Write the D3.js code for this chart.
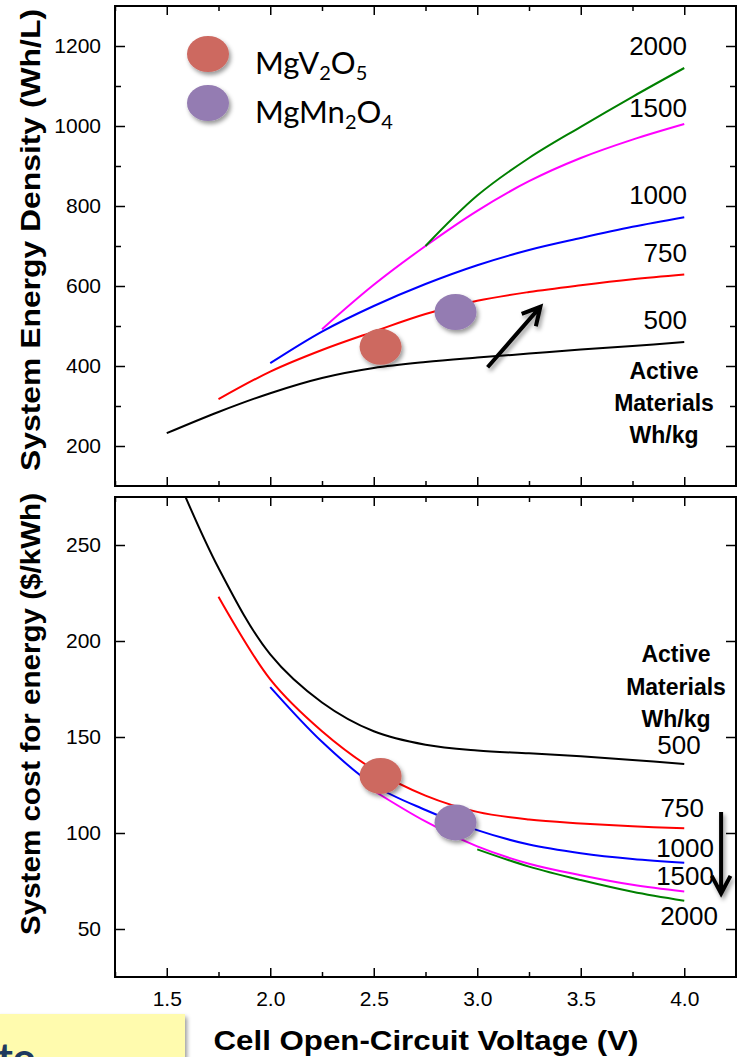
<!DOCTYPE html>
<html>
<head>
<meta charset="utf-8">
<script src="https://cdn.jsdelivr.net/npm/d3@7"></script>
<style>
	body { margin: 0; background: #fff; }
	svg { display: block; }
</style>
</head>
<body>
<div id="chart"></div>
<script>
var voltages = [1.5, 1.75, 2.0, 2.25, 2.5, 2.75, 3.0, 3.25, 3.5, 3.75, 4.0];

// system energy density (Wh/L), one array per active-material energy (Wh/kg)
var energy500 = [232, 285, 332, 370, 395, 410, 421, 431, 441, 450, 460];
var energy750 = [null, 317, 386, 440, 486, 530, 563, 585, 602, 617, 629];
var energy1000 = [null, null, 407, 486, 550, 605, 652, 690, 720, 748, 772];
var energy1500 = [null, null, null, 492, 603, 700, 788, 862, 920, 966, 1005];
var energy2000 = [null, null, null, null, null, 700, 826, 920, 998, 1073, 1145];

// system cost for energy ($/kWh)
var cost500 = [298, 238, 193, 168, 153, 146, 143, 141.5, 140, 138, 136];
var cost750 = [null, 223, 180, 153, 133, 119.5, 111, 107, 105, 103.5, 102.5];
var cost1000 = [null, null, 176, 147.5, 125, 112, 101.5, 94, 89.5, 86.5, 84.5];
var cost1500 = [null, null, null, null, 122, 106, 93, 84, 78, 73, 69.5];
var cost2000 = [null, null, null, null, null, null, 91.5, 82.5, 75.5, 69.4, 64.7];

var seriesNames = ["500", "750", "1000", "1500", "2000"];
var seriesColors = ["#000000", "#ff0000", "#0000ff", "#ff00ff", "#008000"];

var materials = ["MgV", "MgMn"];
var materialColors = ["#cd6961", "#947cb2"];
var markerVoltage = [2.533, 2.895];
var markerEnergy = [448, 535];
var markerCost = [129.7, 105.5];

var energyTarget = 472, energyTargetRange = [1.30, 4.10];
var costTarget = 100, costTargetRange = [1.36, 4.16];
var energyArrow = [[3.05, 397], [3.305, 548]];
var costArrow = [[4.178, 111], [4.178, 68.5]];

var xTicks = [1.5, 2.0, 2.5, 3.0, 3.5, 4.0];
var xMinor = [1.25, 1.75, 2.25, 2.75, 3.25, 3.75];
var energyTicks = [200, 400, 600, 800, 1000, 1200];
var energyMinor = [300, 500, 700, 900, 1100];
var costTicks = [50, 100, 150, 200, 250];

const W = 744, H = 1057;
const left = 115, right = 736;
const tickFont = "'Liberation Sans', Arial, sans-serif";

const svg = d3.select("#chart").append("svg")
	.attr("width", W)
	.attr("height", H);

var defs = svg.append("defs");
defs.append("filter")
	.attr("id", "shadow")
	.attr("x", "-20%").attr("y", "-40%")
	.attr("width", "150%").attr("height", "200%")
	.append("feDropShadow")
	.attr("dx", 2).attr("dy", 3)
	.attr("stdDeviation", 2)
	.attr("flood-color", "#000")
	.attr("flood-opacity", 0.4);

const xScale = d3.scaleLinear().domain([1.25, 4.25]).range([left, right]);
const yTop = d3.scaleLinear().domain([100, 1300]).range([486, 6]);
const yBot = d3.scaleLinear().domain([25, 275]).range([977, 497]);

function addAxis(g, axis, transform, format) {
	axis.tickSizeOuter(0).tickPadding(14);
	axis.tickFormat(format ? format : function() { return ""; });
	var sel = g.append("g").attr("transform", transform).call(axis);
	sel.select(".domain").remove();
	sel.selectAll("line").attr("stroke", "#000").attr("stroke-width", 1.5);
	sel.selectAll("text")
		.attr("fill", "#000")
		.style("font-family", tickFont)
		.style("font-size", "21px");
}

function frame(yScale, majors, minors, showX) {
	var top = yScale.range()[1], bottom = yScale.range()[0];
	var g = svg.append("g");
	var xt = "translate(0," + bottom + ")", tt = "translate(0," + top + ")";
	var lt = "translate(" + left + ",0)", rt = "translate(" + right + ",0)";

	addAxis(g, d3.axisBottom(xScale).tickValues(xTicks).tickSize(-9), xt, showX ? d3.format(".1f") : null);
	addAxis(g, d3.axisBottom(xScale).tickValues(xMinor).tickSize(-5), xt, null);
	addAxis(g, d3.axisTop(xScale).tickValues(xTicks).tickSize(-9), tt, null);
	addAxis(g, d3.axisTop(xScale).tickValues(xMinor).tickSize(-5), tt, null);
	addAxis(g, d3.axisLeft(yScale).tickValues(majors).tickSize(-10), lt, d3.format("d"));
	addAxis(g, d3.axisLeft(yScale).tickValues(minors).tickSize(-6), lt, null);
	addAxis(g, d3.axisRight(yScale).tickValues(majors).tickSize(-10), rt, null);
	addAxis(g, d3.axisRight(yScale).tickValues(minors).tickSize(-6), rt, null);

	g.append("rect")
		.attr("x", left).attr("y", top)
		.attr("width", right - left).attr("height", bottom - top)
		.attr("fill", "none").attr("stroke", "#000").attr("stroke-width", 2);
}

frame(yTop, energyTicks, energyMinor, false);
frame(yBot, costTicks, [], true);

defs.append("clipPath").attr("id", "clipTop").append("rect")
	.attr("x", left).attr("y", 6).attr("width", right - left).attr("height", 480);
defs.append("clipPath").attr("id", "clipBot").append("rect")
	.attr("x", left).attr("y", 497).attr("width", right - left).attr("height", 480);

function drawCurves(seriesList, yScale, clip) {
	var g = svg.append("g").attr("clip-path", "url(#" + clip + ")");
	seriesList.forEach(function(values, i) {
		var line = d3.line()
			.defined(function(d) { return d != null; })
			.x(function(d, j) { return xScale(voltages[j]); })
			.y(function(d) { return yScale(d); })
			.curve(d3.curveCatmullRom.alpha(0.5));
		g.append("path")
			.datum(values)
			.attr("d", line)
			.attr("fill", "none")
			.attr("stroke", seriesColors[i])
			.attr("stroke-width", 2);
	});
}

drawCurves([energy500, energy750, energy1000, energy1500, energy2000], yTop, "clipTop");
drawCurves([cost500, cost750, cost1000, cost1500, cost2000], yBot, "clipBot");

function target(value, range, yScale) {
	svg.append("line")
		.attr("x1", xScale(range[0])).attr("x2", xScale(range[1]))
		.attr("y1", yScale(value)).attr("y2", yScale(value))
		.attr("stroke", "#000")
		.attr("stroke-width", 5.5)
		.attr("filter", "url(#shadow)");
}

function markers(values, yScale) {
	svg.append("g").selectAll("ellipse")
		.data(values)
		.enter()
		.append("ellipse")
		.attr("cx", function(d, i) { return xScale(markerVoltage[i]); })
		.attr("cy", function(d) { return yScale(d); })
		.attr("rx", 21)
		.attr("ry", 18)
		.attr("fill", function(d, i) { return materialColors[i]; })
		.attr("filter", "url(#shadow)");
}

function arrow(pts, yScale) {
	var x1 = xScale(pts[0][0]), y1 = yScale(pts[0][1]);
	var x2 = xScale(pts[1][0]), y2 = yScale(pts[1][1]);
	var ang = Math.atan2(y1 - y2, x1 - x2);
	var len = 20, spread = 28 * Math.PI / 180;
	var p = d3.path();
	p.moveTo(x1, y1);
	p.lineTo(x2, y2);
	p.moveTo(x2 + len * Math.cos(ang + spread), y2 + len * Math.sin(ang + spread));
	p.lineTo(x2, y2);
	p.lineTo(x2 + len * Math.cos(ang - spread), y2 + len * Math.sin(ang - spread));
	svg.append("path")
		.attr("d", p.toString())
		.attr("fill", "none")
		.attr("stroke", "#000")
		.attr("stroke-width", 4)
		.attr("filter", "url(#shadow)");
}

target(energyTarget, energyTargetRange, yTop);
markers(markerEnergy, yTop);
arrow(energyArrow, yTop);

target(costTarget, costTargetRange, yBot);
markers(markerCost, yBot);
arrow(costArrow, yBot);

// legend
var legend = svg.append("g");
var legendY = [54, 103];
var subs = [["2", "O", "5"], ["2", "O", "4"]];
materials.forEach(function(m, i) {
	legend.append("ellipse")
		.attr("cx", 208).attr("cy", legendY[i])
		.attr("rx", 21).attr("ry", 18)
		.attr("fill", materialColors[i])
		.attr("filter", "url(#shadow)");
	var t = legend.append("text")
		.attr("x", 255).attr("y", legendY[i] + 20)
		.style("font-family", "Lato, 'Open Sans', sans-serif")
		.style("font-size", "31px")
		.attr("fill", "#000");
	t.append("tspan").text(m);
	t.append("tspan").attr("dy", 6).style("font-size", "20px").text(subs[i][0]);
	t.append("tspan").attr("dy", -6).text(subs[i][1]);
	t.append("tspan").attr("dy", 6).style("font-size", "20px").text(subs[i][2]);
});

// curve labels
function label(txt, x, y, anchor, bold) {
	svg.append("text")
		.attr("x", x).attr("y", y)
		.attr("text-anchor", anchor)
		.style("font-family", tickFont)
		.style("font-size", bold ? "23px" : "26px")
		.style("font-weight", bold ? "bold" : "normal")
		.text(txt);
}

var topLabelY = [329, 262, 204, 117, 55];
seriesNames.forEach(function(n, i) { label(n, 687, topLabelY[i], "end", false); });
["Active", "Materials", "Wh/kg"].forEach(function(s, i) { label(s, 664, 379 + i * 32, "middle", true); });

var botLabelX = [679, 704, 714, 714, 718];
var botLabelY = [754, 817, 857, 885, 925];
seriesNames.forEach(function(n, i) { label(n, botLabelX[i], botLabelY[i], i === 0 ? "middle" : "end", false); });
["Active", "Materials", "Wh/kg"].forEach(function(s, i) { label(s, 676, 662 + i * 32.5, "middle", true); });

// axis titles
function title(txt, x, y, rotate, length) {
	svg.append("text")
		.attr("transform", "translate(" + x + "," + y + ")" + (rotate ? " rotate(-90)" : ""))
		.attr("text-anchor", "middle")
		.attr("textLength", length)
		.attr("lengthAdjust", "spacingAndGlyphs")
		.style("font-family", tickFont)
		.style("font-size", "28px")
		.style("font-weight", "bold")
		.text(txt);
}
title("System Energy Density (Wh/L)", 40, 240, true, 462);
title("System cost for energy ($/kWh)", 40, 714, true, 442);
title("Cell Open-Circuit Voltage (V)", 426, 1050, false, 425);

// yellow note box, cut off at the bottom edge
svg.append("rect")
	.attr("x", -4).attr("y", 1014)
	.attr("width", 189).attr("height", 60)
	.attr("fill", "#fffbae")
	.attr("filter", "url(#shadow)");
svg.append("text")
	.attr("x", -2).attr("y", 1072)
	.style("font-family", "Lato, sans-serif")
	.style("font-size", "40px")
	.style("font-weight", "bold")
	.attr("fill", "#1f3a5f")
	.text("to");
</script>
</body>
</html>
